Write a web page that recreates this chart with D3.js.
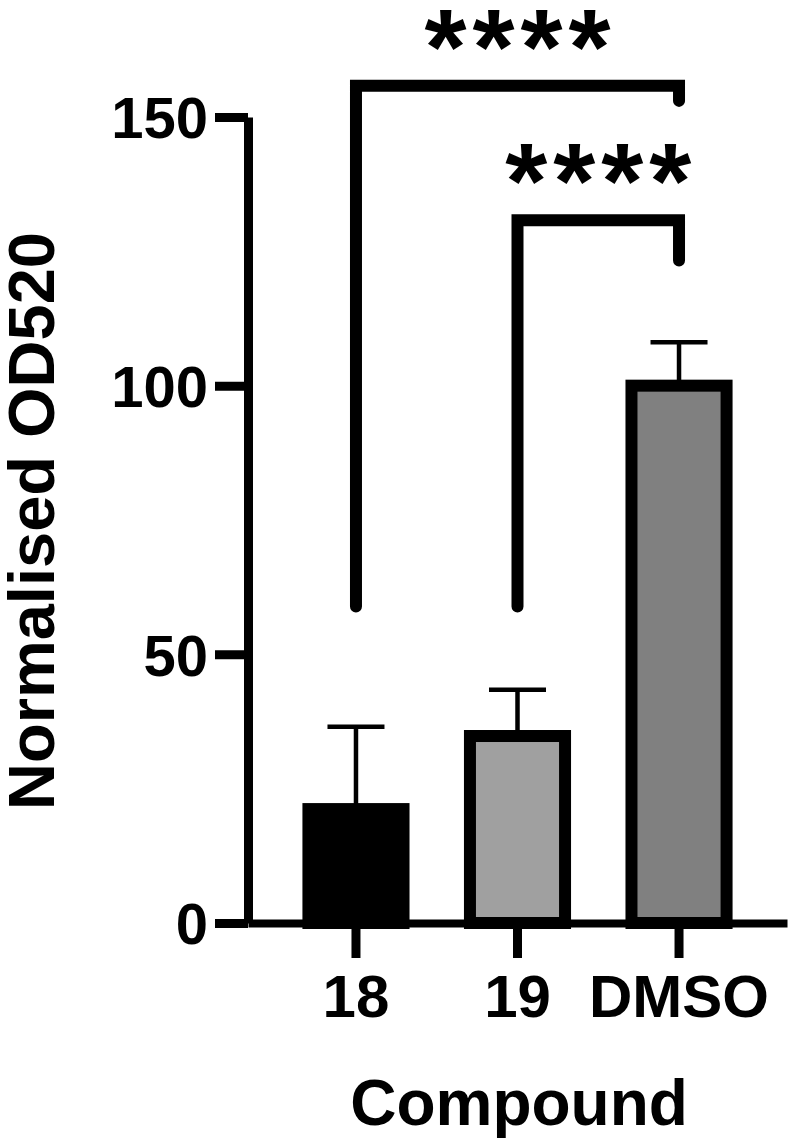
<!DOCTYPE html>
<html>
<head>
<meta charset="utf-8">
<script src="https://d3js.org/d3.v7.min.js"></script>
<style>
  body { margin: 0; background: #fff; }
  text { font-family: "Liberation Sans", Arial, sans-serif; font-weight: bold; fill: #000; }
</style>
</head>
<body>
<svg id="chart" width="797" height="1144"></svg>
<script>
// values
const categories = ["18", "19", "DMSO"];
const means = [21.2, 34.8, 100];
const errors = [15.3, 8.6, 8.1];
const yTicks = [0, 50, 100, 150];
// significance brackets (in data units)
const compFrom = ["18", "19"];
const compTo = ["DMSO", "DMSO"];
const compLevel = [155.8, 130.8];
const compLeftEnd = [58.9, 58.9];
const compRightEnd = [153, 123.3];
const compLabel = ["****", "****"];

const barFills = ["#000000", "#a0a0a0", "#808080"];

const svg = d3.select("#chart");

const x = d3.scaleBand().domain(categories).range([248, 787])
    .paddingInner(0.337).paddingOuter(0.337);
const y = d3.scaleLinear().domain([0, 150]).range([923, 117]);

const data = categories.map((c, i) => ({c: c, m: means[i], e: errors[i], fill: barFills[i]}));

// error bars (upper only)
const eb = svg.append("g").attr("stroke", "#000").attr("stroke-width", 4.5);
eb.selectAll("line.v").data(data).join("line")
  .attr("x1", d => x(d.c) + x.bandwidth() / 2)
  .attr("x2", d => x(d.c) + x.bandwidth() / 2)
  .attr("y1", d => y(d.m))
  .attr("y2", d => y(d.m + d.e));
eb.selectAll("line.cap").data(data).join("line")
  .attr("x1", d => x(d.c) + x.bandwidth() / 2 - 28.5)
  .attr("x2", d => x(d.c) + x.bandwidth() / 2 + 28.5)
  .attr("y1", d => y(d.m + d.e))
  .attr("y2", d => y(d.m + d.e));

// bars
svg.append("g").selectAll("rect").data(data).join("rect")
  .attr("x", d => x(d.c) + 6)
  .attr("width", x.bandwidth() - 12)
  .attr("y", d => y(d.m))
  .attr("height", d => y(0) - y(d.m))
  .attr("fill", d => d.fill)
  .attr("stroke", "#000")
  .attr("stroke-width", 12);

// axes
const yAxis = svg.append("g")
  .attr("transform", "translate(248,0)")
  .call(d3.axisLeft(y).tickValues(yTicks).tickSize(33).tickSizeOuter(0).tickPadding(7));
yAxis.select(".domain").attr("stroke-width", 9);
yAxis.selectAll(".tick line").attr("stroke-width", 9);
yAxis.selectAll(".tick text").attr("font-size", 58).attr("dy", "0.36em")
  .attr("font-family", "Liberation Sans, Arial, sans-serif");

const xAxis = svg.append("g")
  .attr("transform", "translate(0,923)")
  .call(d3.axisBottom(x).tickSize(35).tickSizeOuter(0).tickPadding(16));
xAxis.select(".domain").attr("stroke-width", 8);
xAxis.selectAll(".tick line").attr("stroke-width", 9);
xAxis.selectAll(".tick text").attr("font-size", 60).attr("dy", "0.71em")
  .attr("font-family", "Liberation Sans, Arial, sans-serif");

// axis titles
svg.append("text")
  .attr("x", 519).attr("y", 1125)
  .attr("text-anchor", "middle")
  .attr("font-size", 64)
  .text("Compound");

svg.append("text")
  .attr("transform", "translate(54,521) rotate(-90)")
  .attr("text-anchor", "middle")
  .attr("font-size", 65)
  .text("Normalised OD520");

// significance brackets
const mid = c => x(c) + x.bandwidth() / 2;
const comps = compFrom.map((f, i) => ({
  f: f, t: compTo[i], lvl: compLevel[i], l: compLeftEnd[i], r: compRightEnd[i], lab: compLabel[i]
}));
svg.append("g").selectAll("path").data(comps).join("path")
  .attr("d", d => `M${mid(d.f)},${y(d.l)}V${y(d.lvl)}H${mid(d.t)}V${y(d.r)}`)
  .attr("fill", "none")
  .attr("stroke", "#000")
  .attr("stroke-width", 12)
  .attr("stroke-linecap", "round")
  .attr("stroke-linejoin", "miter");

svg.append("g").selectAll("text").data(comps).join("text")
  .attr("x", d => (mid(d.f) + mid(d.t)) / 2 + 3)
  .attr("y", d => y(d.lvl) - 2)
  .attr("text-anchor", "middle")
  .attr("font-size", 108)
  .attr("letter-spacing", 6)
  .attr("font-family", "DejaVu Sans, sans-serif")
  .text(d => d.lab);
</script>
</body>
</html>
